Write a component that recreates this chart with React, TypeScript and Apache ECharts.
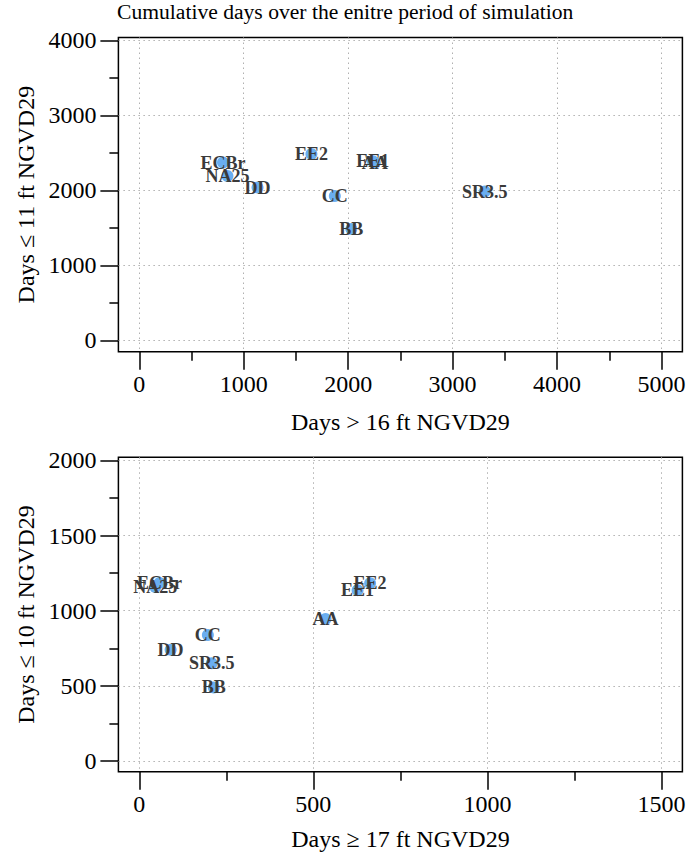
import React, { useEffect, useRef } from 'react';
import * as echarts from 'echarts';

const sites = ['AA', 'BB', 'CC', 'DD', 'EE1', 'EE2', 'ECBr', 'NA25', 'SR3.5'];
const topX = [2255, 2030, 1872, 1132, 2236, 1648, 801, 844, 3308];
const topY = [2370, 1486, 1926, 2039, 2390, 2486, 2373, 2193, 1986];
const botX = [535, 214, 197, 90, 627, 663, 58, 46, 208];
const botY = [945, 490, 839, 740, 1137, 1183, 1185, 1158, 651];

const topXTicks = [0, 1000, 2000, 3000, 4000, 5000];
const topXMinor = [500, 1500, 2500, 3500, 4500];
const topYTicks = [0, 1000, 2000, 3000, 4000];
const topYMinor = [500, 1500, 2500, 3500];
const botXTicks = [0, 500, 1000, 1500];
const botXMinor = [250, 750, 1250];
const botYTicks = [0, 500, 1000, 1500, 2000];
const botYMinor = [250, 750, 1250, 1750];

const titleText = 'Cumulative days over the enitre period of simulation';
const topXName = 'Days > 16 ft NGVD29';
const topYName = 'Days \u2264 11 ft NGVD29';
const botXName = 'Days \u2265 17 ft NGVD29';
const botYName = 'Days \u2264 10 ft NGVD29';

const FONT = 'Liberation Serif';

function majorAxis(gridIndex: number, isY: boolean, min: number, max: number, ticks: number[], name: string, nameGap: number) {
  return {
    type: 'value',
    gridIndex,
    min,
    max,
    position: isY ? 'left' : 'bottom',
    name,
    nameLocation: 'middle',
    nameGap,
    nameTextStyle: { fontFamily: FONT, fontSize: 24, color: '#000' },
    axisLine: { show: false, onZero: false },
    axisTick: { show: true, inside: false, length: 18, customValues: ticks, lineStyle: { color: '#000', width: 1.5 } },
    axisLabel: {
      show: true,
      customValues: ticks,
      margin: isY ? 22 : 20,
      fontFamily: FONT,
      fontSize: 24,
      color: '#000',
      formatter: (v: number) => String(v),
    },
    splitLine: { show: true, lineStyle: { color: '#b0b0b0', width: 1, type: [1.5, 3.5] } },
  };
}

function minorAxis(gridIndex: number, isY: boolean, min: number, max: number, ticks: number[]) {
  return {
    type: 'value',
    gridIndex,
    min,
    max,
    position: isY ? 'left' : 'bottom',
    axisLine: { show: false, onZero: false },
    axisTick: { show: true, inside: false, length: 9, customValues: ticks, lineStyle: { color: '#000', width: 1.5 } },
    axisLabel: { show: false },
    splitLine: { show: false },
  };
}

function pts(xs: number[], ys: number[]) {
  return sites.map((s, i) => ({ value: [xs[i], ys[i]], name: s }));
}

const labelStyle = {
  show: true,
  position: 'inside',
  formatter: (p: any) => p.name,
  fontFamily: FONT,
  fontWeight: 'bold',
  fontSize: 18,
  color: '#3a3a3a',
};

export default function App() {
  const ref = useRef<HTMLDivElement>(null);
  useEffect(() => {
    if (!ref.current) return;
    const chart = echarts.init(ref.current, undefined, { renderer: 'svg' });
    chart.setOption({
      animation: false,
      backgroundColor: '#fff',
      title: {
        text: titleText,
        left: 117,
        top: 1,
        padding: 0,
        textStyle: { fontFamily: FONT, fontSize: 21.6, fontWeight: 'normal', color: '#000' },
      },
      grid: [
        { left: 118.4, top: 37.5, width: 564, height: 314.2, show: true, borderColor: '#000', borderWidth: 1.5, backgroundColor: 'transparent', outerBoundsMode: 'none' },
        { left: 118.4, top: 457.3, width: 564, height: 314.4, show: true, borderColor: '#000', borderWidth: 1.5, backgroundColor: 'transparent', outerBoundsMode: 'none' },
      ],
      xAxis: [
        majorAxis(0, false, -200, 5200, topXTicks, topXName, 58),
        minorAxis(0, false, -200, 5200, topXMinor),
        majorAxis(1, false, -60, 1560, botXTicks, botXName, 55),
        minorAxis(1, false, -60, 1560, botXMinor),
      ],
      yAxis: [
        majorAxis(0, true, -150, 4040, topYTicks, topYName, 80),
        minorAxis(0, true, -150, 4040, topYMinor),
        majorAxis(1, true, -70, 2020, botYTicks, botYName, 80),
        minorAxis(1, true, -70, 2020, botYMinor),
      ],
      series: [
        {
          type: 'scatter',
          xAxisIndex: 0,
          yAxisIndex: 0,
          symbol: 'circle',
          symbolSize: 12,
          itemStyle: { color: '#6aaef0', opacity: 1 },
          label: labelStyle,
          data: pts(topX, topY),
        },
        {
          type: 'scatter',
          xAxisIndex: 2,
          yAxisIndex: 2,
          symbol: 'circle',
          symbolSize: 12,
          itemStyle: { color: '#6aaef0', opacity: 1 },
          label: labelStyle,
          data: pts(botX, botY),
        },
      ],
    });
    return () => chart.dispose();
  }, []);
  return <div ref={ref} style={{ position: 'fixed', left: 0, top: 0, width: 688, height: 852 }} />;
}
